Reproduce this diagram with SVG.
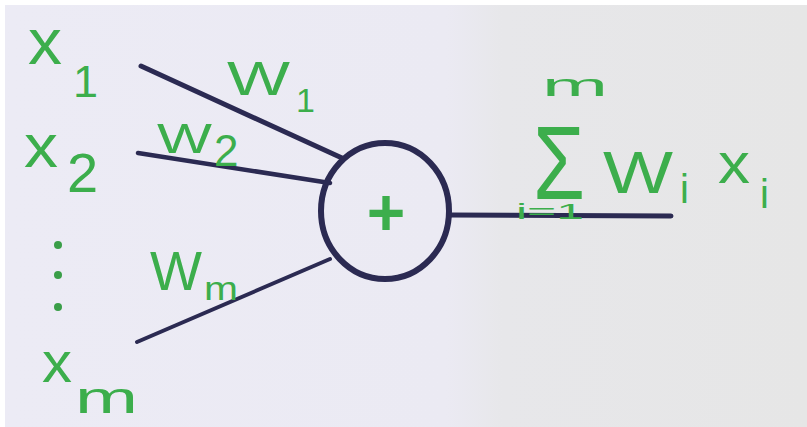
<svg xmlns="http://www.w3.org/2000/svg" width="807" height="427" viewBox="0 0 807 427">
  <defs>
    <linearGradient id="paper" x1="0" y1="0" x2="1" y2="0">
      <stop offset="0" stop-color="#ecebf5"/>
      <stop offset="0.55" stop-color="#ebeaf3"/>
      <stop offset="0.62" stop-color="#e7e7ea"/>
      <stop offset="1" stop-color="#e6e6e6"/>
    </linearGradient>
    <style>
      .ink { fill: none; stroke: #2b2a52; stroke-linecap: round; }
      .lbl { fill: #3cae4c; font-family: "Liberation Sans", Arial, sans-serif; }
    </style>
  </defs>

  <!-- paper -->
  <rect width="807" height="427" fill="#ffffff"/>
  <rect x="5" y="5" width="802" height="422" fill="url(#paper)"/>

  <!-- connectors: inputs into the unit, and its output -->
  <g id="connectors" class="ink">
    <line x1="141" y1="66" x2="342" y2="158" stroke-width="5"/>
    <line x1="138" y1="153" x2="330" y2="183" stroke-width="4.5"/>
    <line x1="137" y1="342" x2="330" y2="259" stroke-width="4"/>
    <line x1="450" y1="215" x2="671" y2="216" stroke-width="5"/>
  </g>

  <!-- summing unit -->
  <g id="neuron">
    <ellipse cx="385" cy="211" rx="64" ry="68" class="ink" stroke-width="6"/>
    <text x="386" y="235" class="lbl" font-size="66" font-weight="bold" text-anchor="middle">+</text>
  </g>

  <!-- inputs -->
  <g id="input-x1" class="lbl">
    <text x="28" y="64" font-size="64" textLength="34" lengthAdjust="spacingAndGlyphs">x</text>
    <text x="73" y="97" font-size="45">1</text>
  </g>
  <g id="input-x2" class="lbl">
    <text x="24" y="167" font-size="62" textLength="34" lengthAdjust="spacingAndGlyphs">x</text>
    <text x="67" y="192" font-size="56">2</text>
  </g>
  <g id="input-dots" fill="#3a9e48">
    <circle cx="58" cy="245" r="4"/>
    <circle cx="58" cy="275" r="4"/>
    <circle cx="58" cy="307" r="4"/>
  </g>
  <g id="input-xm" class="lbl">
    <text x="42" y="382" font-size="58" textLength="30" lengthAdjust="spacingAndGlyphs">x</text>
    <text x="75" y="413" font-size="44" textLength="63" lengthAdjust="spacingAndGlyphs">m</text>
  </g>

  <!-- weights -->
  <g id="weight-w1" class="lbl">
    <text x="227" y="95" font-size="49" textLength="63" lengthAdjust="spacingAndGlyphs">W</text>
    <text x="296" y="112" font-size="34">1</text>
  </g>
  <g id="weight-w2" class="lbl">
    <text x="157" y="153" font-size="43" textLength="55" lengthAdjust="spacingAndGlyphs">W</text>
    <text x="214" y="166" font-size="44">2</text>
  </g>
  <g id="weight-wm" class="lbl">
    <text x="150" y="290" font-size="56" textLength="52" lengthAdjust="spacingAndGlyphs">W</text>
    <text x="204" y="300" font-size="34" textLength="34" lengthAdjust="spacingAndGlyphs">m</text>
  </g>

  <!-- output: weighted sum -->
  <g id="output-sum" class="lbl">
    <text x="542" y="96" font-size="32" textLength="66" lengthAdjust="spacingAndGlyphs">m</text>
    <text x="533" y="199" font-size="104" textLength="52" lengthAdjust="spacingAndGlyphs">Σ</text>
    <text x="516" y="219" font-size="22" textLength="68" lengthAdjust="spacingAndGlyphs">i=1</text>
    <text x="603" y="193" font-size="60" textLength="70" lengthAdjust="spacingAndGlyphs">W</text>
    <text x="680" y="203" font-size="40">i</text>
    <text x="718" y="183" font-size="58" textLength="32" lengthAdjust="spacingAndGlyphs">x</text>
    <text x="760" y="208" font-size="40">i</text>
  </g>
</svg>
